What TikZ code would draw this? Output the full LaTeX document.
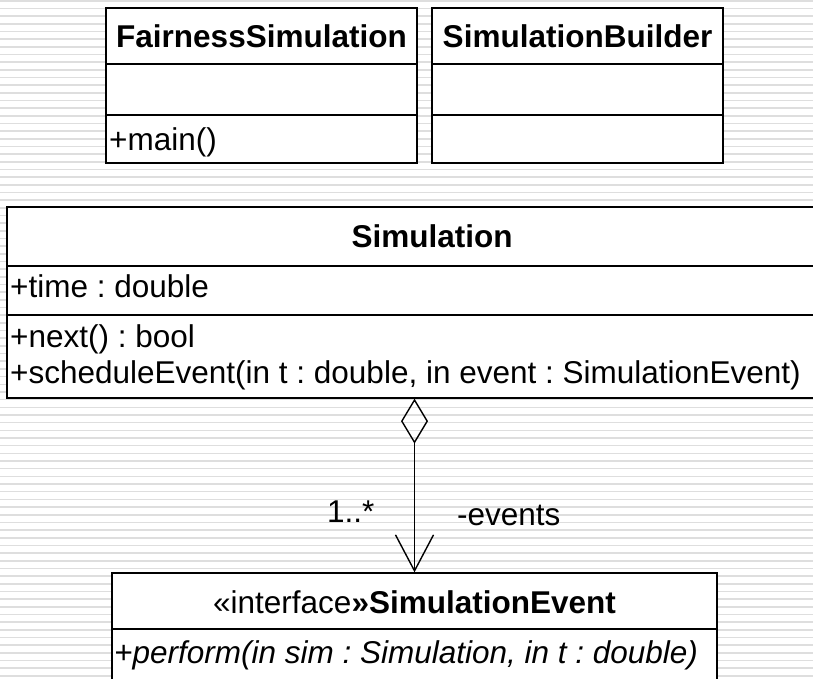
\documentclass[tikz,border=0pt]{standalone}
\usepackage{fontspec}
\setmainfont{Liberation Sans}
\usetikzlibrary{arrows.meta}
\frenchspacing
\newcommand{\umlfont}{\fontsize{31.5}{36}\selectfont\frenchspacing}
\tikzset{
  every node/.style={font=\umlfont, inner sep=0pt},
  classbox/.style={draw=black, fill=white, line width=1.3pt, rectangle, inner sep=0pt},
  divider/.style={draw=black, line width=1.3pt},
  member/.style={anchor=base west},
  title/.style={anchor=base, font=\umlfont\bfseries},
  stripe/.style={draw=black!13, line width=1.6pt},
  assoc/.style={draw=black, line width=1.1pt,
    {Diamond[open, length=45pt, width=27pt, line width=1.4pt]}-{Straight Barb[length=36pt, width=38pt, line width=1.4pt]}},
  role/.style={anchor=base west}
}
\begin{document}
\begin{tikzpicture}[x=1pt, y=-1pt]
  \useasboundingbox (0,0) rectangle (813,678);
  \clip (0,0) rectangle (813,678);
  \fill[white] (0,0) rectangle (813,678);
  % striped backdrop
  \foreach \i in {0,...,88} {
    \draw[stripe] (0,0.8+\i*7.67) -- (813,0.8+\i*7.67);
  }

  % FairnessSimulation
  \node[classbox, minimum width=311pt, minimum height=155pt] (fs) at (261.5,85.5) {};
  \draw[divider] (fs.west |- 0,64) -- (fs.east |- 0,64);
  \draw[divider] (fs.west |- 0,115) -- (fs.east |- 0,115);
  \node[title] (fsname) at (261.5,47) {FairnessSimulation};
  \node[member] (fsmain) at (109,150) {+main()};

  % SimulationBuilder
  \node[classbox, minimum width=291pt, minimum height=155pt] (sb) at (577.5,85.5) {};
  \draw[divider] (sb.west |- 0,64) -- (sb.east |- 0,64);
  \draw[divider] (sb.west |- 0,115) -- (sb.east |- 0,115);
  \node[title] (sbname) at (577.5,47) {SimulationBuilder};

  % Simulation
  \node[classbox, minimum width=850pt, minimum height=191pt] (sim) at (432,302.5) {};
  \draw[divider] (sim.west |- 0,266) -- (sim.east |- 0,266);
  \draw[divider] (sim.west |- 0,315) -- (sim.east |- 0,315);
  \node[title] (simname) at (432,247) {Simulation};
  \node[member] (simtime) at (10,297) {+time : double};
  \node[member] (simnext) at (10,347) {+next() : bool};
  \node[member] (simsched) at (10,383) {+scheduleEvent(in t : double, in event : SimulationEvent)};

  % SimulationEvent
  \node[classbox, minimum width=605pt, minimum height=117pt] (ev) at (414.5,631.5) {};
  \draw[divider] (ev.west |- 0,629) -- (ev.east |- 0,629);
  \node[anchor=base] (evname) at (414.5,613) {«interface\textbf{»SimulationEvent}};
  \node[member] (evperform) at (114,663) {\itshape +perform(in sim : Simulation, in t : double)};

  % aggregation: Simulation holds its events
  \draw[assoc] (sim.south -| ev.north) -- (ev.north);
  \node[role] (mult) at (327,522) {1..*};
  \node[role] (evrole) at (457,525) {-events};
\end{tikzpicture}
\end{document}
